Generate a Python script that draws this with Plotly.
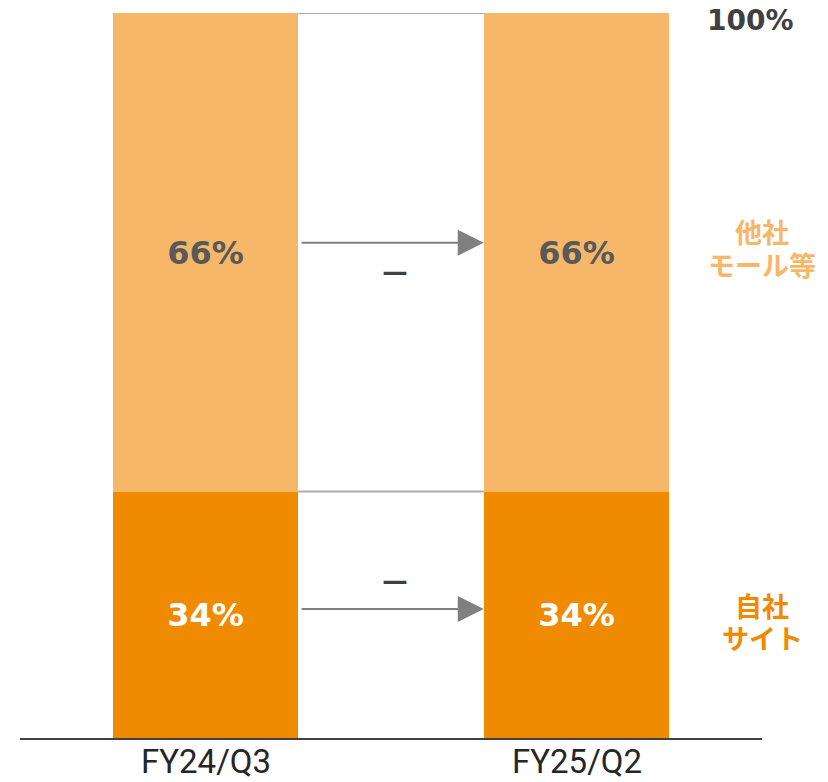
import plotly.graph_objects as go

# Channel mix of sales, share in percent
periods = ["FY24/Q3", "FY25/Q2"]
own_site = [34, 34]      # 自社サイト
other_malls = [66, 66]   # 他社モール等
change_labels = ["－", "－"]  # change between the two periods (other malls, own site)

own_site_name = ["自社", "サイト"]
other_malls_name = ["他社", "モール等"]
total_label = "100%"

DARK_ORANGE = "#F08A00"
LIGHT_ORANGE = "#F6B768"
TEXT_DARK = "#595959"
GRAY_LINE = "#ABABAB"
ARROW_GRAY = "#808080"

positions = list(range(len(periods)))

fig = go.Figure()

fig.add_trace(go.Bar(
    x=positions, y=own_site, width=0.5,
    marker=dict(color=DARK_ORANGE, line=dict(width=0)),
    text=[f"{v}%" for v in own_site],
    textposition="inside", insidetextanchor="middle",
    textfont=dict(family="DejaVu Sans", size=32, color="white", weight="bold"),
    hoverinfo="skip",
))
fig.add_trace(go.Bar(
    x=positions, y=other_malls, width=0.5,
    marker=dict(color=LIGHT_ORANGE, line=dict(width=0)),
    text=[f"{v}%" for v in other_malls],
    textposition="inside", insidetextanchor="middle",
    textfont=dict(family="DejaVu Sans", size=32, color=TEXT_DARK, weight="bold"),
    hoverinfo="skip",
))

top = own_site[0] + other_malls[0]
half = 0.25  # half bar width

# connector lines between the bar edges at each segment boundary
for level in (top, own_site[0]):
    fig.add_shape(type="line", xref="x", yref="y",
                  x0=half, x1=1 - half, y0=level, y1=level,
                  line=dict(color=GRAY_LINE, width=2))

# arrows and change marks for each segment
seg_mid_upper = own_site[0] + other_malls[0] / 2
seg_mid_lower = own_site[0] / 2
arrow_levels = [seg_mid_upper + 1.3, seg_mid_lower + 0.8]
dash_levels = [seg_mid_upper - 2.6, seg_mid_lower + 4.8]
for lvl, dlvl, lab in zip(arrow_levels, dash_levels, change_labels):
    fig.add_annotation(x=1 - half, y=lvl, ax=half + 0.005, ay=lvl,
                       xref="x", yref="y", axref="x", ayref="y",
                       text="", showarrow=True, arrowhead=2, arrowsize=2.6,
                       arrowwidth=2, arrowcolor=ARROW_GRAY, standoff=0, startstandoff=0)
    fig.add_annotation(x=0.51, y=dlvl, xref="x", yref="y", text=lab, showarrow=False,
                       font=dict(family="Noto Sans CJK JP", size=32, color="#404040", weight="bold"))

# series labels on the right, one annotation per line
def side_label(lines, y_mid, shifts, color):
    for line, dy in zip(lines, shifts):
        fig.add_annotation(x=1.5, y=y_mid, yshift=dy, xref="x", yref="y",
                           text=line, showarrow=False, height=32,
                           font=dict(family="Noto Sans CJK JP", size=27, color=color, weight="bold"))

side_label(other_malls_name, seg_mid_upper, [21, -12], LIGHT_ORANGE)
side_label(own_site_name, seg_mid_lower, [10, -22], DARK_ORANGE)

fig.add_annotation(x=1.47, y=top, yshift=-7, xref="x", yref="y",
                   text=total_label, showarrow=False,
                   font=dict(family="DejaVu Sans", size=28, color="#404040", weight="bold"))

# period labels under the baseline
for pos, name in zip(positions, periods):
    fig.add_annotation(x=pos, y=0, yshift=-23, xref="x", yref="y",
                       yanchor="middle", text=name, showarrow=False,
                       font=dict(family="Roboto", size=33, color="#262626"))

fig.update_layout(
    width=828, height=782,
    margin=dict(l=20, r=66, t=13, b=44, autoexpand=False),
    barmode="stack", bargap=0,
    showlegend=False,
    plot_bgcolor="white", paper_bgcolor="white",
    xaxis=dict(range=[-0.5, 1.5], tickvals=positions, showticklabels=False,
               showgrid=False, zeroline=False, showline=True,
               linecolor="#404040", linewidth=2, ticks="", automargin=False,
               fixedrange=True),
    yaxis=dict(range=[0, 100], visible=False, fixedrange=True),
)

fig.write_html("out.html")
